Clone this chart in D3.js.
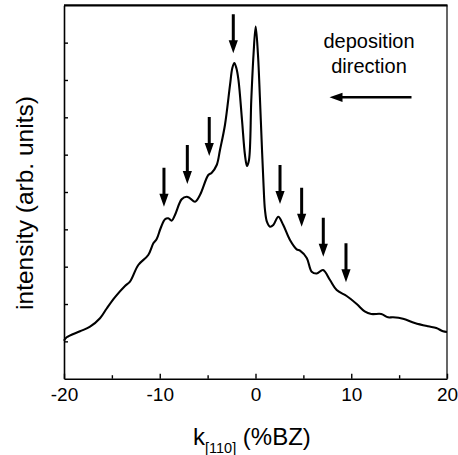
<!DOCTYPE html>
<html>
<head>
<meta charset="utf-8">
<script src="https://cdn.jsdelivr.net/npm/d3@7/dist/d3.min.js"></script>
<style>
  html, body { margin: 0; padding: 0; background: #fff; }
  svg { display: block; font-family: "Liberation Sans", Arial, Helvetica, sans-serif; }
</style>
</head>
<body>
<svg id="chart" width="458" height="455"></svg>
<script>
// ---- data ----
const kValues = [-20, -19.72, -18.33, -17.28, -16.24, -15.54, -14.67, -13.63, -13.11, -12.24,
  -11.20, -10.67, -10.32, -9.90, -9.45, -9.11, -8.75, -8.41, -7.71, -7.19,
  -6.84, -6.32, -5.80, -4.93, -4.57, -4.05, -3.71, -3.19, -2.66, -2.42,
  -2.21, -2.00, -1.78, -1.41, -1.10, -0.89, -0.68, -0.44, -0.21, 0.02,
  0.26, 0.47, 0.68, 0.84, 0.99, 1.20, 1.51, 1.86, 2.38, 2.90,
  3.60, 4.30, 4.65, 5.35, 5.87, 6.39, 7.05, 7.78, 8.48, 9.52,
  10.57, 11.40, 12.09, 13.14, 13.84, 14.36, 15.40, 16.63, 18.02, 18.88,
  19.58, 20];
const intensity = [1.018, 1.109, 1.269, 1.393, 1.618, 1.880, 2.183, 2.483, 2.598, 3.045,
  3.313, 3.626, 3.741, 4.036, 4.269, 4.296, 4.231, 4.384, 4.804, 4.874,
  4.831, 4.740, 4.920, 5.455, 5.517, 5.723, 6.125, 6.794, 7.866, 8.321,
  8.455, 8.321, 8.000, 6.928, 5.991, 5.696, 5.857, 7.464, 8.669, 9.432,
  8.669, 7.464, 6.125, 5.187, 4.518, 4.197, 4.071, 4.116, 4.338, 4.116,
  3.715, 3.465, 3.428, 3.232, 2.866, 2.817, 2.911, 2.643, 2.375, 2.215,
  2.001, 1.805, 1.733, 1.733, 1.644, 1.644, 1.607, 1.492, 1.403, 1.358,
  1.269, 1.251];
// marker arrows: position and intensity at arrow tip
const arrowK = [-9.56, -7.12, -4.83, -2.32, 2.56, 4.82, 7.08, 9.45];
const arrowTip = [4.606, 5.214, 5.964, 8.715, 4.679, 4.071, 3.267, 2.584];
const xMajorTicks = [-20, -10, 0, 10, 20];
const xMinorTicks = [-15, -5, 5, 15];
const yTicks = [1, 2, 3, 4, 5, 6, 7, 8, 9];
const annotationLines = ["deposition", "direction"];

// ---- layout ----
const svg = d3.select("#chart");
const L = 64, R = 447, T = 5.3, B = 378.7;
const x = d3.scaleLinear().domain([-20, 20]).range([L, R]);
const y = d3.scaleLinear().domain([0, 10]).range([B, T]);
const font = "Liberation Sans, Arial, Helvetica, sans-serif";

// frame: top (thicker) and right borders
svg.append("line").attr("x1", L).attr("x2", R + 0.5).attr("y1", T).attr("y2", T)
  .attr("stroke", "#000").attr("stroke-width", 2.2);
svg.append("line").attr("x1", R).attr("x2", R).attr("y1", T).attr("y2", B)
  .attr("stroke", "#000").attr("stroke-width", 1.2);

// bottom axis
const gx = svg.append("g").attr("transform", `translate(0,${B})`)
  .call(d3.axisBottom(x).tickValues(xMajorTicks).tickSizeInner(-5).tickSizeOuter(0)
    .tickPadding(9).tickFormat(d => String(d)));
gx.select(".domain").attr("stroke-width", 1.6);
gx.selectAll(".tick line").attr("stroke-width", 1.4);
gx.selectAll("text").attr("font-family", font).attr("font-size", 19).attr("fill", "#000");
const gxm = svg.append("g").attr("transform", `translate(0,${B})`)
  .call(d3.axisBottom(x).tickValues(xMinorTicks).tickSizeInner(-3.5).tickSizeOuter(0).tickFormat(""));
gxm.select(".domain").remove();
gxm.selectAll(".tick line").attr("stroke-width", 1.4);

// left axis
const gy = svg.append("g").attr("transform", `translate(${L},0)`)
  .call(d3.axisLeft(y).tickValues(yTicks).tickSizeInner(-4).tickSizeOuter(0).tickFormat(""));
gy.select(".domain").attr("stroke-width", 1.6);
gy.selectAll(".tick line").attr("stroke-width", 1.4);

// curve
const pts = kValues.map((k, i) => [k, intensity[i]]);
svg.append("path")
  .datum(pts)
  .attr("fill", "none")
  .attr("stroke", "#000")
  .attr("stroke-width", 2.1)
  .attr("stroke-linejoin", "round")
  .attr("d", d3.line().x(d => x(d[0])).y(d => y(d[1])).curve(d3.curveCatmullRom.alpha(0.5)));

// marker arrows
const arrowLen = 39, headLen = 13, headHalf = 4.6, shaftHalf = 1.5;
arrowK.forEach((k, i) => {
  const ax = x(k), ty = y(arrowTip[i]);
  const p = d3.path();
  p.moveTo(ax - shaftHalf, ty - arrowLen);
  p.lineTo(ax + shaftHalf, ty - arrowLen);
  p.lineTo(ax + shaftHalf, ty - headLen);
  p.lineTo(ax + headHalf, ty - headLen);
  p.lineTo(ax, ty);
  p.lineTo(ax - headHalf, ty - headLen);
  p.lineTo(ax - shaftHalf, ty - headLen);
  p.closePath();
  svg.append("path").attr("d", p.toString()).attr("fill", "#000");
});

// annotation
svg.append("text").attr("x", 369).attr("y", 48).attr("text-anchor", "middle")
  .attr("font-family", font).attr("font-size", 20).text(annotationLines[0]);
svg.append("text").attr("x", 369).attr("y", 73).attr("text-anchor", "middle")
  .attr("font-family", font).attr("font-size", 20).text(annotationLines[1]);
{
  const x0 = 329.5, x1 = 411.5, yy = 97.3;
  const p = d3.path();
  p.moveTo(x0, yy);
  p.lineTo(x0 + 13, yy - 4.6);
  p.lineTo(x0 + 13, yy - 1.3);
  p.lineTo(x1, yy - 1.3);
  p.lineTo(x1, yy + 1.3);
  p.lineTo(x0 + 13, yy + 1.3);
  p.lineTo(x0 + 13, yy + 4.6);
  p.closePath();
  svg.append("path").attr("d", p.toString()).attr("fill", "#000");
}

// axis titles
const xt = svg.append("text").attr("x", 193).attr("y", 445)
  .attr("font-family", font).attr("font-size", 24).attr("fill", "#000");
xt.append("tspan").text("k");
xt.append("tspan").attr("font-size", 14.5).attr("dy", 8).text("[110]");
xt.append("tspan").attr("dy", -8).text(" (%BZ)");

svg.append("text")
  .attr("transform", `translate(33,${(T + B) / 2 + 11}) rotate(-90)`)
  .attr("text-anchor", "middle")
  .attr("font-family", font).attr("font-size", 24.5).attr("fill", "#000")
  .text("intensity (arb. units)");
</script>
</body>
</html>
